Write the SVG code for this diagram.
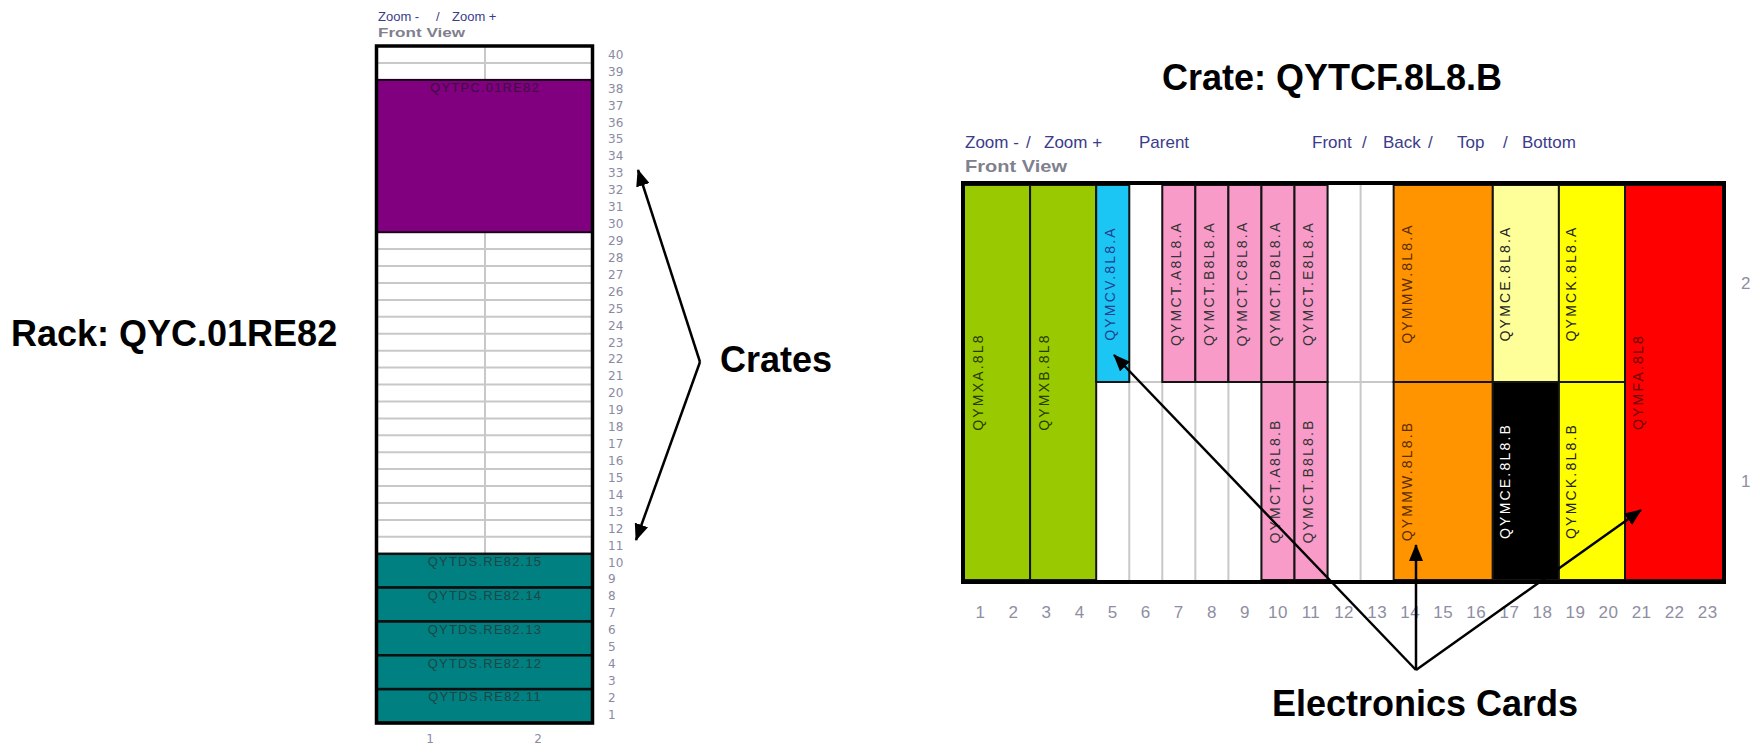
<svg xmlns="http://www.w3.org/2000/svg" width="1760" height="754" viewBox="0 0 1760 754">
<defs>
<style>
.ann{font-family:"Liberation Sans",Arial,sans-serif;font-weight:bold;font-size:36px;fill:#000}
.lnk{font-family:"Liberation Sans",Arial,sans-serif;fill:#3b3b8c}
.fv{font-family:"Liberation Sans",Arial,sans-serif;font-weight:bold;fill:#80808e}
.rn{font-family:"DejaVu Sans",Verdana,sans-serif;font-size:12px;fill:#8a8aa2}
.cn{font-family:"Liberation Sans",Arial,sans-serif;font-size:17px;fill:#8e8ea2;text-anchor:middle;letter-spacing:0.5px}
.rl{font-family:"Liberation Sans",Arial,sans-serif;font-size:13px;letter-spacing:1.2px;text-anchor:middle}
.cl{font-family:"Liberation Sans",Arial,sans-serif;font-size:14px;letter-spacing:2.2px;text-anchor:middle;dominant-baseline:central}
.grid{stroke:#c8c8c8;stroke-width:2}
.card{stroke:#141414;stroke-width:2}
.conn{stroke:#000;stroke-width:2.5;fill:none}
</style>
<marker id="ah" markerUnits="userSpaceOnUse" markerWidth="18" markerHeight="14" refX="16" refY="7" orient="auto">
<path d="M0,0 L17,7 L0,14 Z" fill="#000"/>
</marker>
</defs>
<rect width="1760" height="754" fill="#fff"/>

<!-- Rack -->
<g id="rack">
<text class="lnk" font-size="13" x="378" y="21">Zoom -</text>
<text class="lnk" font-size="13" x="436" y="21">/</text>
<text class="lnk" font-size="13" x="452" y="21">Zoom +</text>
<text class="fv" font-size="13" x="378" y="37" textLength="87" lengthAdjust="spacingAndGlyphs">Front View</text>
<rect x="376.5" y="46" width="216" height="677" fill="#fff"/>
<line class="grid" x1="485" y1="46" x2="485" y2="554"/>
<g class="grid">
<line x1="378" y1="62.9" x2="591" y2="62.9"/>
<line x1="378" y1="249.1" x2="591" y2="249.1"/>
<line x1="378" y1="266.0" x2="591" y2="266.0"/>
<line x1="378" y1="283.0" x2="591" y2="283.0"/>
<line x1="378" y1="299.9" x2="591" y2="299.9"/>
<line x1="378" y1="316.8" x2="591" y2="316.8"/>
<line x1="378" y1="333.7" x2="591" y2="333.7"/>
<line x1="378" y1="350.7" x2="591" y2="350.7"/>
<line x1="378" y1="367.6" x2="591" y2="367.6"/>
<line x1="378" y1="384.5" x2="591" y2="384.5"/>
<line x1="378" y1="401.4" x2="591" y2="401.4"/>
<line x1="378" y1="418.4" x2="591" y2="418.4"/>
<line x1="378" y1="435.3" x2="591" y2="435.3"/>
<line x1="378" y1="452.2" x2="591" y2="452.2"/>
<line x1="378" y1="469.1" x2="591" y2="469.1"/>
<line x1="378" y1="486.1" x2="591" y2="486.1"/>
<line x1="378" y1="503.0" x2="591" y2="503.0"/>
<line x1="378" y1="519.9" x2="591" y2="519.9"/>
<line x1="378" y1="536.8" x2="591" y2="536.8"/>
</g>
</g>
<g id="crate-QYTPC.01RE82">
<rect x="376.5" y="79.9" width="216" height="152.3" fill="#800080" stroke="#1a001a" stroke-width="2"/>
<text class="rl" x="485" y="92" fill="#3e0f3e">QYTPC.01RE82</text>
</g>
<g id="crate-QYTDS.RE82.15">
<rect x="376.5" y="553.8" width="216" height="33.8" fill="#008080" stroke="#101010" stroke-width="2.5"/>
<text class="rl" x="485" y="566" fill="#1f4646">QYTDS.RE82.15</text>
</g>
<g id="crate-QYTDS.RE82.14">
<rect x="376.5" y="587.6" width="216" height="33.8" fill="#008080" stroke="#101010" stroke-width="2.5"/>
<text class="rl" x="485" y="599.9" fill="#1f4646">QYTDS.RE82.14</text>
</g>
<g id="crate-QYTDS.RE82.13">
<rect x="376.5" y="621.5" width="216" height="33.8" fill="#008080" stroke="#101010" stroke-width="2.5"/>
<text class="rl" x="485" y="633.7" fill="#1f4646">QYTDS.RE82.13</text>
</g>
<g id="crate-QYTDS.RE82.12">
<rect x="376.5" y="655.3" width="216" height="33.8" fill="#008080" stroke="#101010" stroke-width="2.5"/>
<text class="rl" x="485" y="667.6" fill="#1f4646">QYTDS.RE82.12</text>
</g>
<g id="crate-QYTDS.RE82.11">
<rect x="376.5" y="689.2" width="216" height="33.8" fill="#008080" stroke="#101010" stroke-width="2.5"/>
<text class="rl" x="485" y="701.4" fill="#1f4646">QYTDS.RE82.11</text>
</g>
<g id="rack-frame">
<rect x="376.5" y="46" width="216" height="677" fill="none" stroke="#000" stroke-width="3.5"/>
</g>
<g id="rack-numbers" class="rn">
<text x="608" y="58.8">40</text><text x="608" y="75.7">39</text><text x="608" y="92.6">38</text><text x="608" y="109.5">37</text>
<text x="608" y="126.5">36</text><text x="608" y="143.4">35</text><text x="608" y="160.3">34</text><text x="608" y="177.2">33</text>
<text x="608" y="194.2">32</text><text x="608" y="211.1">31</text><text x="608" y="228.0">30</text><text x="608" y="244.9">29</text>
<text x="608" y="261.9">28</text><text x="608" y="278.8">27</text><text x="608" y="295.7">26</text><text x="608" y="312.6">25</text>
<text x="608" y="329.6">24</text><text x="608" y="346.5">23</text><text x="608" y="363.4">22</text><text x="608" y="380.3">21</text>
<text x="608" y="397.3">20</text><text x="608" y="414.2">19</text><text x="608" y="431.1">18</text><text x="608" y="448.0">17</text>
<text x="608" y="465.0">16</text><text x="608" y="481.9">15</text><text x="608" y="498.8">14</text><text x="608" y="515.7">13</text>
<text x="608" y="532.7">12</text><text x="608" y="549.6">11</text><text x="608" y="566.5">10</text><text x="608" y="583.4">9</text>
<text x="608" y="600.4">8</text><text x="608" y="617.3">7</text><text x="608" y="634.2">6</text><text x="608" y="651.1">5</text>
<text x="608" y="668.1">4</text><text x="608" y="685.0">3</text><text x="608" y="701.9">2</text><text x="608" y="718.8">1</text>
<text x="430" y="743" text-anchor="middle">1</text><text x="538" y="743" text-anchor="middle">2</text>
</g>

<!-- Annotation labels -->
<g id="label-rack"><text class="ann" x="11" y="346">Rack: QYC.01RE82</text></g>
<g id="label-crates"><text class="ann" x="720" y="372">Crates</text></g>
<g id="label-crate-title"><text class="ann" x="1162" y="90">Crate: QYTCF.8L8.B</text></g>
<g id="label-cards"><text class="ann" x="1272" y="716">Electronics Cards</text></g>

<!-- Crate view -->
<g id="crate-header">
<text class="lnk" font-size="17" x="965" y="148">Zoom -</text>
<text class="lnk" font-size="17" x="1026" y="148">/</text>
<text class="lnk" font-size="17" x="1044" y="148">Zoom +</text>
<text class="lnk" font-size="17" x="1139" y="148">Parent</text>
<text class="lnk" font-size="17" x="1312" y="148">Front</text>
<text class="lnk" font-size="17" x="1362" y="148">/</text>
<text class="lnk" font-size="17" x="1383" y="148">Back</text>
<text class="lnk" font-size="17" x="1428" y="148">/</text>
<text class="lnk" font-size="17" x="1457" y="148">Top</text>
<text class="lnk" font-size="17" x="1503" y="148">/</text>
<text class="lnk" font-size="17" x="1522" y="148">Bottom</text>
<text class="fv" font-size="17" x="965" y="172" textLength="102" lengthAdjust="spacingAndGlyphs">Front View</text>
</g>
<g id="crate-slots">
<rect x="964" y="185" width="760" height="395" fill="#fff"/>
<g class="grid">
<line x1="1129.25" y1="185" x2="1129.25" y2="580"/>
<line x1="1162.3" y1="185" x2="1162.3" y2="580"/>
<line x1="1195.35" y1="185" x2="1195.35" y2="580"/>
<line x1="1228.4" y1="185" x2="1228.4" y2="580"/>
<line x1="1261.45" y1="185" x2="1261.45" y2="580"/>
<line x1="1327.55" y1="185" x2="1327.55" y2="580"/>
<line x1="1360.6" y1="185" x2="1360.6" y2="580"/>
<line x1="1096" y1="382" x2="1394" y2="382"/>
</g>
</g>
<g id="card-QYMXA.8L8"><rect class="card" x="964" y="185" width="66.1" height="395" fill="#99c900"/><text class="cl" fill="#2a3a00" transform="translate(978,382) rotate(-90)">QYMXA.8L8</text></g>
<g id="card-QYMXB.8L8"><rect class="card" x="1030.1" y="185" width="66.1" height="395" fill="#99c900"/><text class="cl" fill="#2a3a00" transform="translate(1044,382) rotate(-90)">QYMXB.8L8</text></g>
<g id="card-QYMCV.8L8.A"><rect class="card" x="1096.2" y="185" width="33.05" height="197" fill="#1cc6f4"/><text class="cl" fill="#1f3f8f" transform="translate(1110,283.5) rotate(-90)">QYMCV.8L8.A</text></g>
<g id="card-QYMCT.A8L8.A"><rect class="card" x="1162.3" y="185" width="33.05" height="197" fill="#f99bc9"/><text class="cl" fill="#333" transform="translate(1176,283.5) rotate(-90)">QYMCT.A8L8.A</text></g>
<g id="card-QYMCT.B8L8.A"><rect class="card" x="1195.35" y="185" width="33.05" height="197" fill="#f99bc9"/><text class="cl" fill="#333" transform="translate(1209,283.5) rotate(-90)">QYMCT.B8L8.A</text></g>
<g id="card-QYMCT.C8L8.A"><rect class="card" x="1228.4" y="185" width="33.05" height="197" fill="#f99bc9"/><text class="cl" fill="#333" transform="translate(1242,283.5) rotate(-90)">QYMCT.C8L8.A</text></g>
<g id="card-QYMCT.D8L8.A"><rect class="card" x="1261.45" y="185" width="33.05" height="197" fill="#f99bc9"/><text class="cl" fill="#333" transform="translate(1275,283.5) rotate(-90)">QYMCT.D8L8.A</text></g>
<g id="card-QYMCT.E8L8.A"><rect class="card" x="1294.5" y="185" width="33.05" height="197" fill="#f99bc9"/><text class="cl" fill="#333" transform="translate(1308,283.5) rotate(-90)">QYMCT.E8L8.A</text></g>
<g id="card-QYMCT.A8L8.B"><rect class="card" x="1261.45" y="382" width="33.05" height="198" fill="#f99bc9"/><text class="cl" fill="#333" transform="translate(1275,481) rotate(-90)">QYMCT.A8L8.B</text></g>
<g id="card-QYMCT.B8L8.B"><rect class="card" x="1294.5" y="382" width="33.05" height="198" fill="#f99bc9"/><text class="cl" fill="#333" transform="translate(1308,481) rotate(-90)">QYMCT.B8L8.B</text></g>
<g id="card-QYMMW.8L8.A"><rect class="card" x="1393.65" y="185" width="99.15" height="197" fill="#ff9400"/><text class="cl" fill="#5a2c00" transform="translate(1407,283.5) rotate(-90)">QYMMW.8L8.A</text></g>
<g id="card-QYMMW.8L8.B"><rect class="card" x="1393.65" y="382" width="99.15" height="198" fill="#ff9400"/><text class="cl" fill="#5a2c00" transform="translate(1407,481) rotate(-90)">QYMMW.8L8.B</text></g>
<g id="card-QYMCE.8L8.A"><rect class="card" x="1492.8" y="185" width="66.1" height="197" fill="#ffff99"/><text class="cl" fill="#222" transform="translate(1505,283.5) rotate(-90)">QYMCE.8L8.A</text></g>
<g id="card-QYMCE.8L8.B"><rect class="card" x="1492.8" y="382" width="66.1" height="198" fill="#000"/><text class="cl" fill="#fff" transform="translate(1505,481) rotate(-90)">QYMCE.8L8.B</text></g>
<g id="card-QYMCK.8L8.A"><rect class="card" x="1558.9" y="185" width="66.1" height="197" fill="#ffff00"/><text class="cl" fill="#222" transform="translate(1571,283.5) rotate(-90)">QYMCK.8L8.A</text></g>
<g id="card-QYMCK.8L8.B"><rect class="card" x="1558.9" y="382" width="66.1" height="198" fill="#ffff00"/><text class="cl" fill="#222" transform="translate(1571,481) rotate(-90)">QYMCK.8L8.B</text></g>
<g id="card-QYMFA.8L8"><rect class="card" x="1625" y="185" width="99" height="395" fill="#ff0000"/><text class="cl" fill="#6a0000" transform="translate(1638,382) rotate(-90)">QYMFA.8L8</text></g>
<g id="crate-frame"><rect x="963" y="183" width="761" height="399" fill="none" stroke="#000" stroke-width="4"/></g>
<g id="crate-numbers" class="cn">
<text x="980.5" y="618">1</text><text x="1013.6" y="618">2</text><text x="1046.6" y="618">3</text><text x="1079.7" y="618">4</text>
<text x="1112.7" y="618">5</text><text x="1145.8" y="618">6</text><text x="1178.8" y="618">7</text><text x="1211.9" y="618">8</text>
<text x="1244.9" y="618">9</text><text x="1278" y="618">10</text><text x="1311" y="618">11</text><text x="1344.1" y="618">12</text>
<text x="1377.2" y="618">13</text><text x="1410.2" y="618">14</text><text x="1443.3" y="618">15</text><text x="1476.3" y="618">16</text>
<text x="1509.4" y="618">17</text><text x="1542.4" y="618">18</text><text x="1575.5" y="618">19</text><text x="1608.5" y="618">20</text>
<text x="1641.6" y="618">21</text><text x="1674.6" y="618">22</text><text x="1707.7" y="618">23</text>
<text x="1746" y="289">2</text><text x="1746" y="487">1</text>
</g>

<!-- Connectors -->
<g id="connectors">
<line class="conn" x1="700" y1="362" x2="638" y2="170" marker-end="url(#ah)"/>
<line class="conn" x1="700" y1="362" x2="636" y2="540" marker-end="url(#ah)"/>
<line class="conn" x1="1416" y1="670" x2="1114" y2="355" marker-end="url(#ah)"/>
<line class="conn" x1="1416" y1="670" x2="1416" y2="545" marker-end="url(#ah)"/>
<line class="conn" x1="1416" y1="670" x2="1641" y2="510" marker-end="url(#ah)"/>
</g>
</svg>
